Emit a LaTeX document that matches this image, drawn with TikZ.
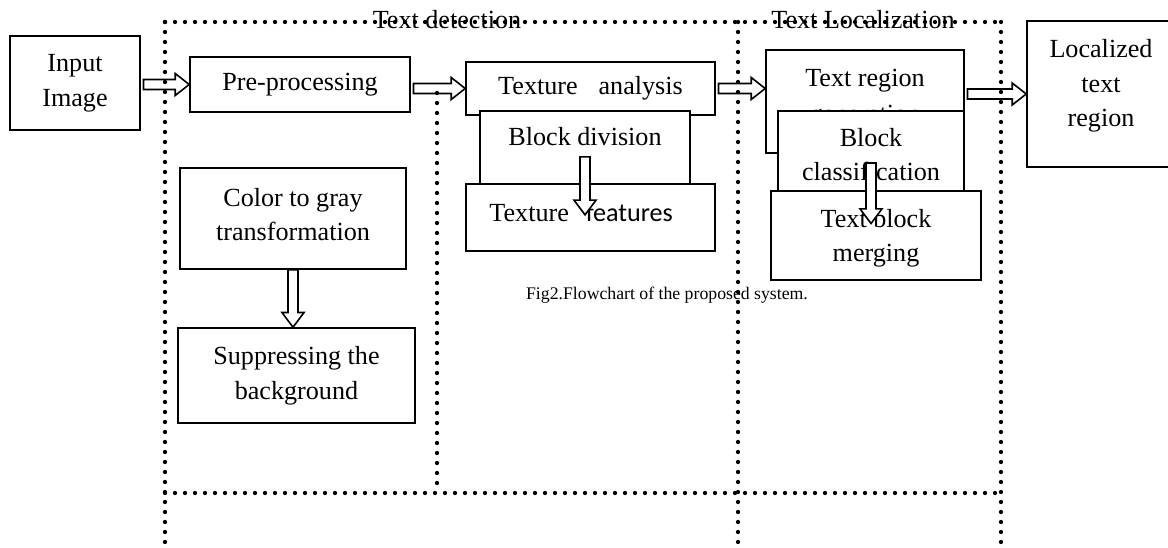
\documentclass[tikz,border=0pt]{standalone}
\usepackage{fontspec}
\setmainfont{Liberation Serif}
\newfontfamily\calfont{Carlito}
\usetikzlibrary{calc}

% hollow block arrows between boxes
\newcommand{\harr}[2]{\draw[hollow] let \p1=#1, \p2=#2 in
    (\x1+2pt,\y1+3.75pt) -- (\x2-10.5pt,\y1+3.75pt) -- (\x2-10.5pt,\y1+8.25pt) -- (\x2,\y1)
    -- (\x2-10.5pt,\y1-8.25pt) -- (\x2-10.5pt,\y1-3.75pt) -- (\x1+2pt,\y1-3.75pt) -- cycle;}
\newcommand{\varr}[2]{\draw[hollow] let \p1=#1, \p2=#2 in
    (\x1-3.75pt,\y1) -- (\x1-3.75pt,\y2+11pt) -- (\x1-8.25pt,\y2+11pt) -- (\x1,\y2)
    -- (\x1+8.25pt,\y2+11pt) -- (\x1+3.75pt,\y2+11pt) -- (\x1+3.75pt,\y1) -- cycle;}
\newcommand{\dn}[1]{\rule[-#1]{0pt}{#1}}

\begin{document}
\begin{tikzpicture}[x=0.75pt, y=-0.75pt,
    box/.style={draw, line width=1.2pt, fill=white, align=center, inner sep=0pt,
        font=\fontsize{19.6}{26}\selectfont},
    hollow/.style={line width=1.2pt, fill=white, line join=miter},
    frame/.style={line width=3.2pt, line cap=round, dash pattern=on 0pt off 7.5pt}]
    \useasboundingbox (0,0) rectangle (1168,548);

    \node[box, minimum width=97.5pt, minimum height=70.5pt] (inp) at (75,83) {Input\\Image};
    \node[box, minimum width=165pt, minimum height=41.25pt] (pre) at (300,84.5) {Pre-processing};
    \node[box, minimum width=169.5pt, minimum height=75.75pt] (gray) at (293,218.5) {Color to gray\\transformation\dn{6pt}};
    \node[box, minimum width=177.75pt, minimum height=71.25pt] (supp) at (296.5,375.5) {Suppressing the\\background};

    \node[box, minimum width=186.75pt, minimum height=39.75pt] (texan) at (590.5,88.5) {Texture\hspace{0.55em} analysis};
    \node[box, minimum width=157.5pt, minimum height=54.75pt] (blkdiv) at (585,147.5) {Block division\dn{16pt}};
    \node[box, minimum width=186.75pt, minimum height=50.25pt] (texfeat) at (590.5,217.5) {Texture\hspace{0.4em} {\calfont features}\hspace*{14pt}\dn{8pt}};

    \node[box, minimum width=148.5pt, minimum height=77.25pt] (treg) at (865,101.5) {Text region\\[1pt]generation\dn{8pt}};
    \node[box, minimum width=139.5pt, minimum height=60pt] (blkcls) at (871,151) {\rule{0pt}{19pt}Block\\classification};
    \node[box, minimum width=157.5pt, minimum height=66.75pt] (merge) at (876,235.5) {\rule{0pt}{17.5pt}Text block\\merging};

    \node[box, minimum width=111pt, minimum height=109.5pt] (loc) at (1101,94) {Localized\\text\\region\dn{16.5pt}};

    \harr{(inp.east |- pre.west)}{(pre.west)}
    \harr{(pre.east |- texan.west)}{(texan.west)}
    \harr{(texan.east)}{(treg.west |- texan.east)}
    \harr{(treg.east |- loc.west)}{(loc.west)}
    \varr{(gray.south)}{(supp.north)}
    \varr{([yshift=-7pt]blkdiv.center)}{([yshift=2pt]texfeat.center)}
    \varr{([yshift=-9pt]blkcls.center)}{([yshift=9pt]merge.center)}

    % dotted frame
    \draw[frame] (165,22) -- (1001,22);
    \draw[frame] (165,22) -- (165,552);
    \draw[frame] (738,22) -- (738,552);
    \draw[frame] (1001,22) -- (1001,552);
    \draw[frame] (437,93) -- (437,488);
    \draw[frame] (165,493) -- (1001,493);

    \node[font=\fontsize{19.6}{26}\selectfont, inner sep=0pt] (detlab) at (447,20) {Text detection};
    \node[font=\fontsize{19.6}{26}\selectfont, inner sep=0pt] (loclab) at (863,20) {Text Localization};
    \node[font=\fontsize{13.3}{16}\selectfont, inner sep=0pt] (cap) at (667,295) {Fig2.Flowchart of the proposed system.};
\end{tikzpicture}
\end{document}
